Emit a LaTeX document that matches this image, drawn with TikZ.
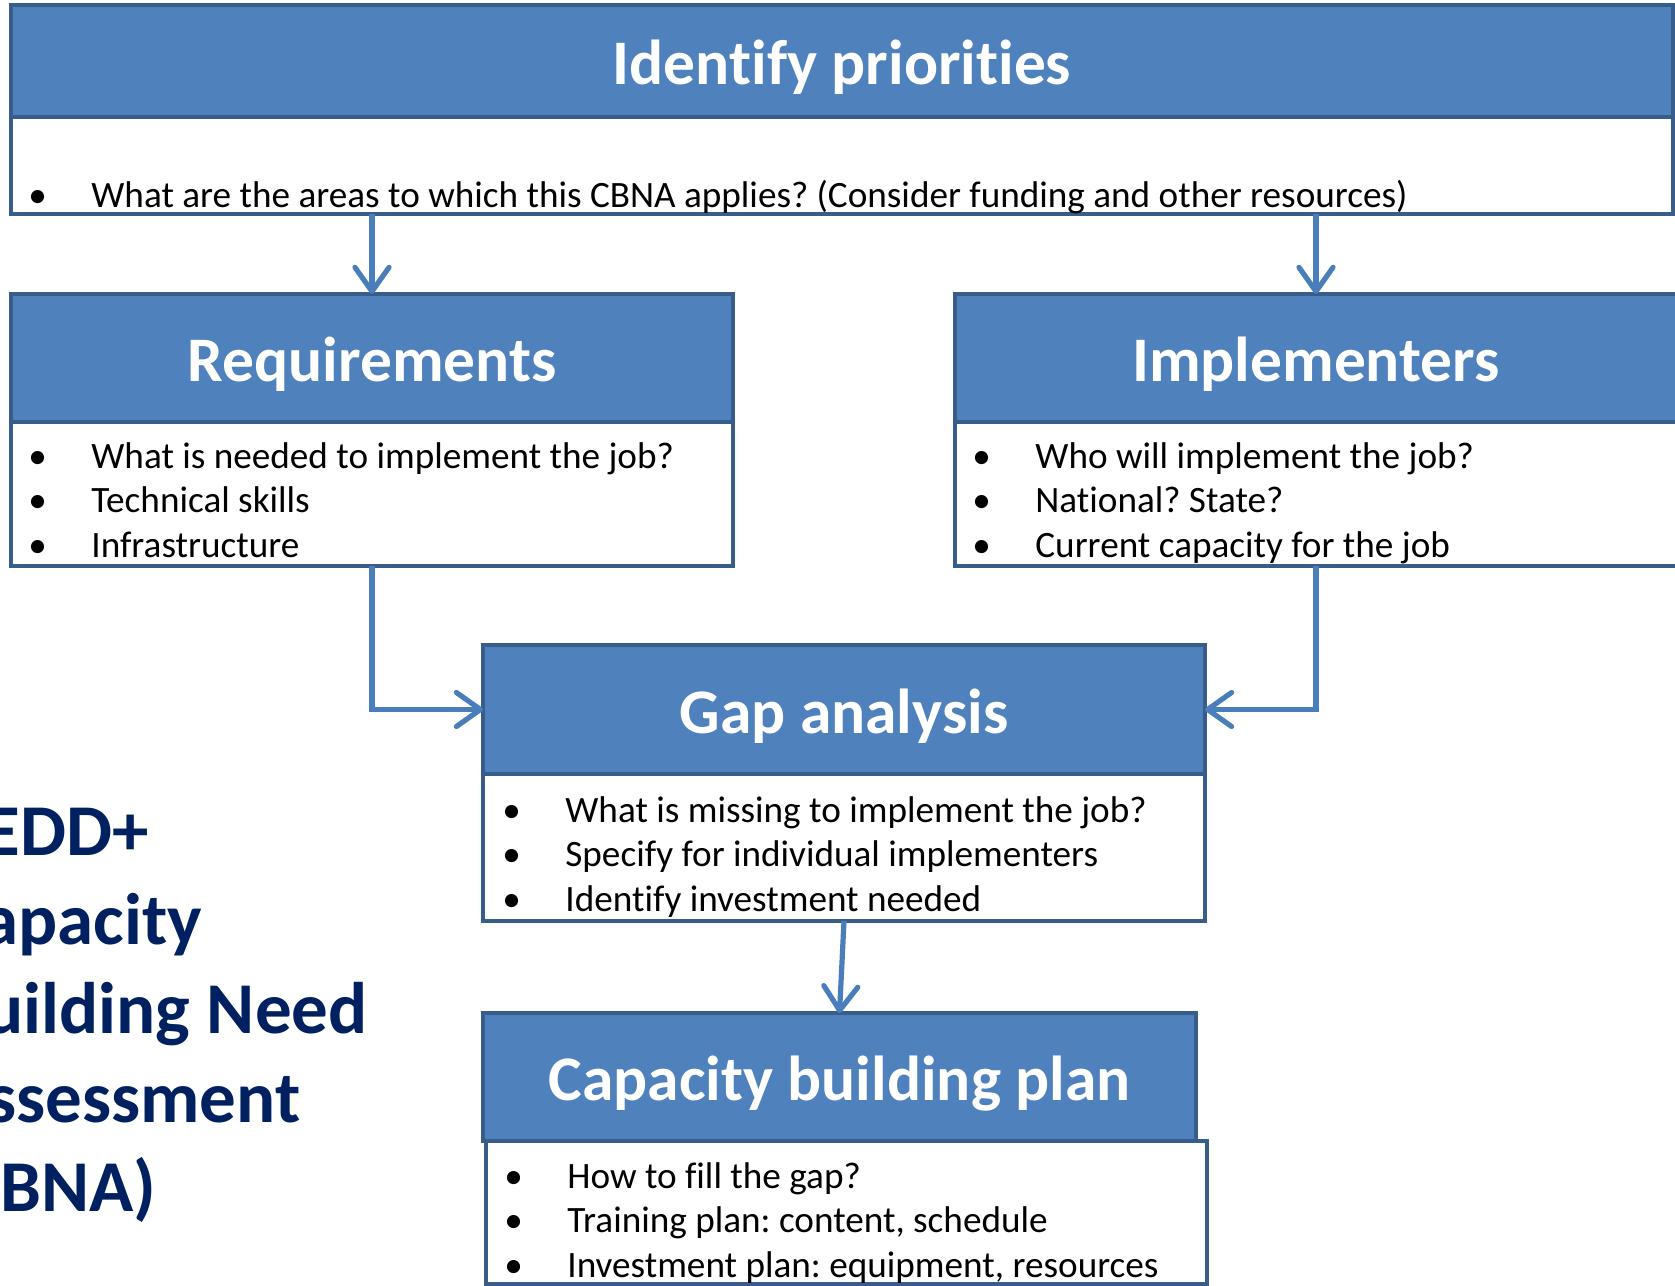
\documentclass[tikz,border=0pt]{standalone}
\usepackage{fontspec}
\setmainfont{Carlito}[Ligatures=NoCommon]
\usetikzlibrary{positioning,arrows.meta}

\definecolor{hdblue}{HTML}{4F81BD}
\definecolor{hdline}{HTML}{385D8A}
\definecolor{arblue}{HTML}{4A7EBB}
\definecolor{navy}{HTML}{002060}

\frenchspacing
\newcommand{\bp}[1]{\makebox[31.5pt][l]{\textbullet}#1}

\tikzset{
  head/.style={draw=hdline, fill=hdblue, line width=2pt, inner sep=0pt, outer sep=0pt,
    anchor=north west, text=white, text height=23.8pt, text depth=0pt,
    font=\bfseries\fontsize{31.75}{38}\selectfont},
  body/.style={draw=hdline, fill=white, line width=2pt, inner sep=0pt, outer sep=0pt},
  list/.style={anchor=base west, align=left, inner sep=0pt, font=\fontsize{18.6}{22.25}\selectfont},
  arr/.style={draw=arblue, line width=2.6pt, -{Straight Barb[length=12pt,width=17pt,round]}},
  navytxt/.style={anchor=base west, inner sep=0pt, text=navy, font=\bfseries\fontsize{36.5}{44.5}\selectfont}
}

\begin{document}
\begin{tikzpicture}[x=0.5pt,y=-0.5pt]
		\useasboundingbox (0,0) rectangle (1675,1285);
		\clip (0,0) rectangle (1675,1285);
		
		% top box
		\node[head, minimum width=831pt, minimum height=56pt] (prio) at (11,5) {Identify priorities};
		\node[body, minimum width=831pt, minimum height=48.5pt, below=0pt of prio] (prioBody) {};
		\node[list] (prioList) at (28,207) {\bp{What are the areas to which this CBNA applies? (Consider funding and other resources)}};
		
		% second row (lists sit on their last line)
		\node[head, minimum width=361pt, minimum height=64pt] (req) at (11,294) {Requirements};
		\node[body, minimum width=361pt, minimum height=72pt, below=0pt of req] (reqBody) {};
		\node[list] (reqList) at (28,557) {\bp{What is needed to implement the job?}\\ \bp{Technical skills}\\ \bp{Infrastructure}};
		
		\node[head, minimum width=361pt, minimum height=64pt] (impl) at (955,294) {Implementers};
		\node[body, minimum width=361pt, minimum height=72pt, below=0pt of impl] (implBody) {};
		\node[list] (implList) at (972,557) {\bp{Who will implement the job?}\\ \bp{National? State?}\\ \bp{Current capacity for the job}};
		
		% gap analysis
		\node[head, minimum width=361pt, minimum height=64.5pt] (gap) at (483,645) {Gap analysis};
		\node[body, minimum width=361pt, minimum height=73.5pt, below=0pt of gap] (gapBody) {};
		\node[list] (gapList) at (502,911) {\bp{What is missing to implement the job?}\\ \bp{Specify for individual implementers}\\ \bp{Identify investment needed}};
		
		% capacity building plan
		\node[head, minimum width=356.5pt, minimum height=64pt] (plan) at (483,1013) {Capacity building plan};
		\node[body, minimum width=360.5pt, minimum height=71.5pt, below=0pt of plan, xshift=3.5pt] (planBody) {};
		\node[list] (planList) at (504,1277) {\bp{How to fill the gap?}\\ \bp{Training plan: content, schedule}\\ \bp{Investment plan: equipment, resources}};
		
		% arrows
		\draw[arr] (prioBody.south -| req.north) -- (req.north);
		\draw[arr] (prioBody.south -| impl.north) -- (impl.north);
		\draw[arr] (reqBody.south) |- (gap.west);
		\draw[arr] (implBody.south) |- (gap.east);
		\draw[arr] (gapBody.south) -- (plan.north);
		
		% title at the left
		\node[navytxt] (t1) at (-16,855) {EDD+};
		\node[navytxt] (t2) at (-18,944) {apacity};
		\node[navytxt] (t3) at (-16,1033) {uilding Need};
		\node[navytxt] (t4) at (-13,1122) {ssessment};
		\node[navytxt] (t5) at (0,1211) {BNA)};
		
\end{tikzpicture}
\end{document}
